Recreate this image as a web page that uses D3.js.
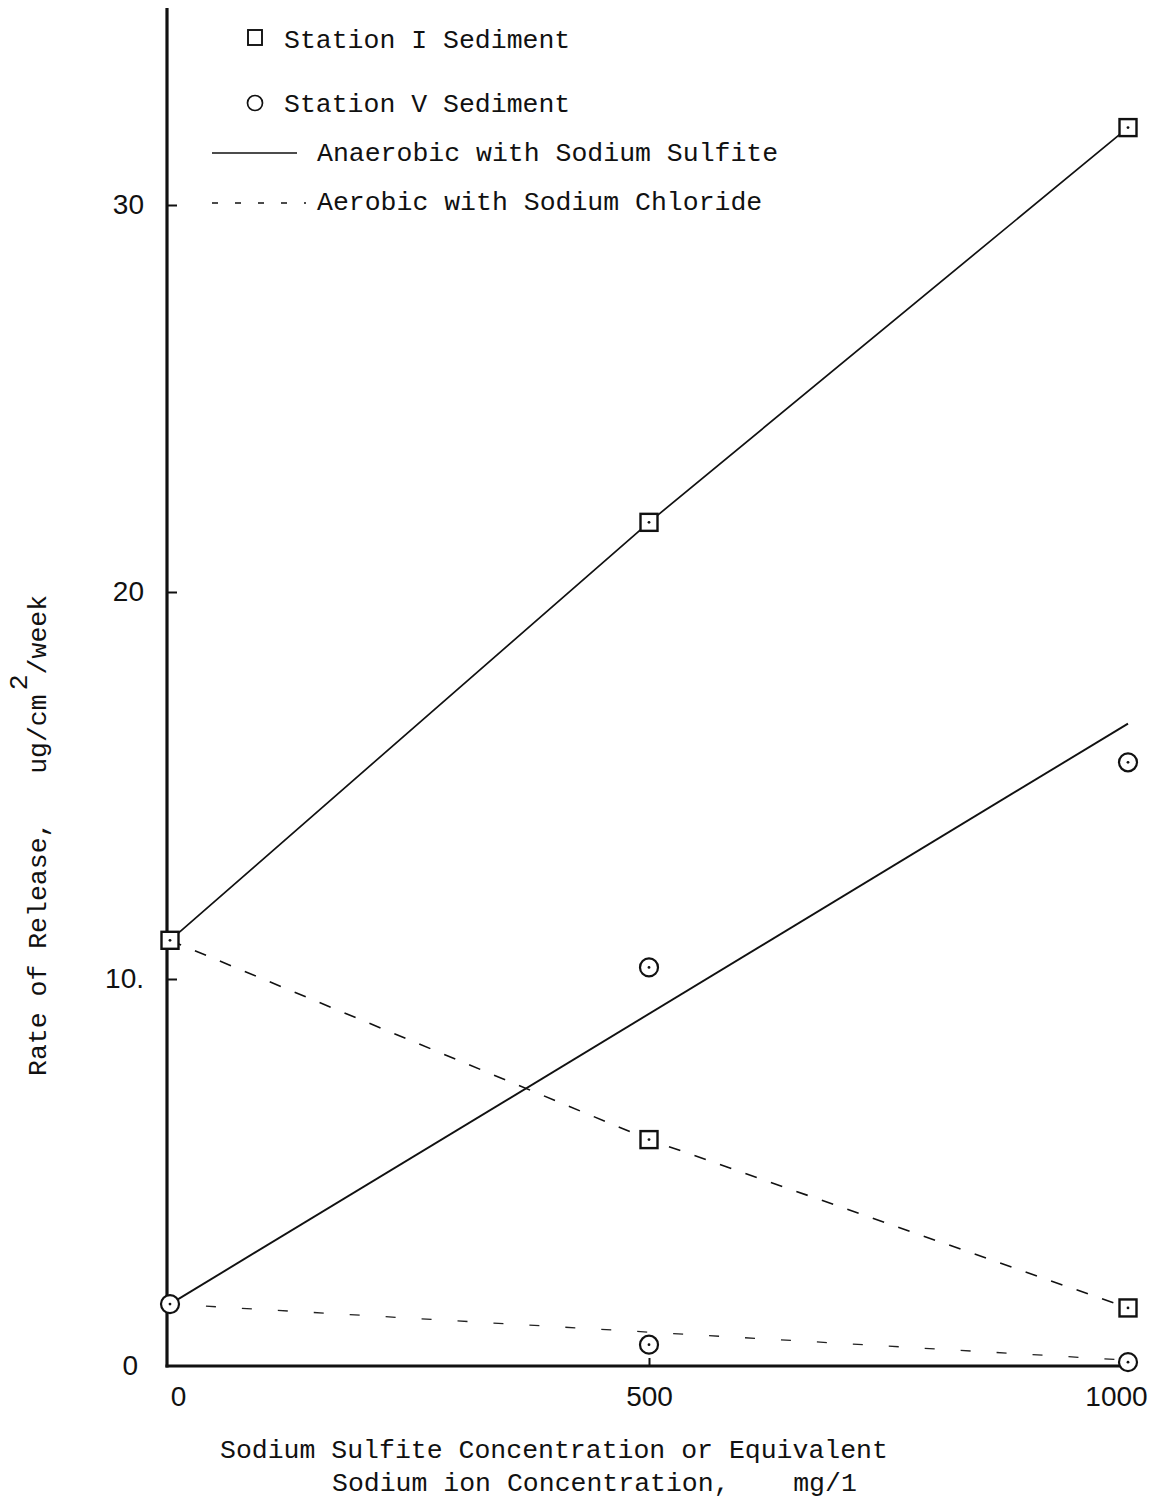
<!DOCTYPE html>
<html>
<head>
<meta charset="utf-8">
<script src="https://cdn.jsdelivr.net/npm/d3@7"></script>
<style>
  body { margin: 0; background: #fff; }
  text { fill: #111; }
  .mono { font-family: "Liberation Mono", "DejaVu Sans Mono", monospace; font-size: 26.5px; white-space: pre; }
  .tick text { font-family: "Liberation Sans", Arial, sans-serif; font-size: 28px; }
</style>
</head>
<body>
<svg width="1156" height="1501"></svg>
<script>
// concentrations (mg/l)
var conc = [0, 500, 1000];

// rate of release, ug/cm2/week
var st1Anaerobic = [11.0, 21.8, 32.0];
var st1Aerobic = [11.0, 5.85, 1.5];
var st5Anaerobic = [1.6, 10.3, 15.6];
var st5Aerobic = [1.6, 0.55, 0.1];

// fitted lines for station V (end points at 0 and 1000)
var fitConc = [0, 1000];
var st5AnaerobicFit = [1.6, 16.6];
var st5AerobicFit = [1.6, 0.15];

var yTicks = [0, 10, 20, 30];
var yTickLabels = ["0", "10.", "20", "30"];
var xTicks = [0, 500, 1000];

var svg = d3.select("svg");

var x = d3.scaleLinear().domain([0, 1000]).range([170, 1128]);
var y = d3.scaleLinear().domain([0, 35]).range([1366, 11.5]);

// axes
var yAxis = d3.axisLeft(y)
    .tickValues(yTicks)
    .tickSize(-10)
    .tickSizeOuter(0)
    .tickPadding(23)
    .tickFormat(function(d, i) { return yTickLabels[i]; });

var gy = svg.append("g")
    .attr("transform", "translate(" + (x(0) - 3) + ",0)")
    .call(yAxis);
gy.select(".domain").remove();
gy.selectAll(".tick line").attr("stroke", "#111").attr("stroke-width", 2)
    .filter(function(d) { return d === 0; }).remove();
gy.selectAll(".tick text").attr("dx", function(d) { return d === 0 ? -6 : 0; });

svg.append("line")
    .attr("x1", x(0) - 3).attr("x2", x(0) - 3)
    .attr("y1", y(0) + 1.5).attr("y2", 8)
    .attr("stroke", "#111").attr("stroke-width", 3.2);

var xAxis = d3.axisBottom(x)
    .tickValues(xTicks)
    .tickSize(-8)
    .tickSizeOuter(0)
    .tickPadding(20)
    .tickFormat(d3.format("d"));

var gx = svg.append("g")
    .attr("transform", "translate(0," + y(0) + ")")
    .call(xAxis);
gx.select(".domain").remove();
gx.selectAll(".tick line").attr("stroke", "#111").attr("stroke-width", 2)
    .filter(function(d) { return d !== 500; }).remove();
gx.selectAll(".tick text").attr("dx", function(d) {
    return d === 0 ? 8 : (d === 1000 ? -12 : 0);
});

svg.append("line")
    .attr("x1", x(0) - 4.5).attr("x2", x(1000) + 8)
    .attr("y1", y(0)).attr("y2", y(0))
    .attr("stroke", "#111").attr("stroke-width", 3.2);

// lines
var line = d3.line()
    .x(function(d) { return x(d[0]); })
    .y(function(d) { return y(d[1]); });

function pairs(xs, ys) {
    return xs.map(function(v, i) { return [v, ys[i]]; });
}

svg.append("path")
    .attr("d", line(pairs(conc, st1Anaerobic)))
    .attr("fill", "none").attr("stroke", "#111").attr("stroke-width", 1.7);

svg.append("path")
    .attr("d", line(pairs(fitConc, st5AnaerobicFit)))
    .attr("fill", "none").attr("stroke", "#111").attr("stroke-width", 1.9);

svg.append("path")
    .attr("d", line(pairs(conc, st1Aerobic)))
    .attr("fill", "none").attr("stroke", "#111").attr("stroke-width", 1.6)
    .attr("stroke-dasharray", "12,15");

svg.append("path")
    .attr("d", line(pairs(fitConc, st5AerobicFit)))
    .attr("fill", "none").attr("stroke", "#222").attr("stroke-width", 1.3)
    .attr("stroke-dasharray", "10,26");

// markers
var squares = pairs(conc, st1Anaerobic).concat(pairs(conc.slice(1), st1Aerobic.slice(1)));
var circles = pairs(conc, st5Anaerobic).concat(pairs(conc.slice(1), st5Aerobic.slice(1)));

svg.selectAll(".sq")
    .data(squares)
    .enter().append("rect")
    .attr("class", "sq")
    .attr("x", function(d) { return x(d[0]) - 8.5; })
    .attr("y", function(d) { return y(d[1]) - 8.5; })
    .attr("width", 17).attr("height", 17)
    .attr("fill", "#fff").attr("stroke", "#111").attr("stroke-width", 2.4);

svg.selectAll(".ci")
    .data(circles)
    .enter().append("circle")
    .attr("class", "ci")
    .attr("cx", function(d) { return x(d[0]); })
    .attr("cy", function(d) { return y(d[1]); })
    .attr("r", 9)
    .attr("fill", "#fff").attr("stroke", "#111").attr("stroke-width", 2.2);

svg.selectAll(".dot")
    .data(squares.concat(circles))
    .enter().append("circle")
    .attr("cx", function(d) { return x(d[0]); })
    .attr("cy", function(d) { return y(d[1]); })
    .attr("r", 1.4).attr("fill", "#111");

// legend
var lg = svg.append("g");
lg.append("rect").attr("x", 248).attr("y", 30).attr("width", 14).attr("height", 15)
    .attr("fill", "none").attr("stroke", "#111").attr("stroke-width", 1.9);
lg.append("text").attr("class", "mono").attr("x", 284).attr("y", 48).text("Station I Sediment");
lg.append("circle").attr("cx", 255).attr("cy", 103).attr("r", 7.5)
    .attr("fill", "none").attr("stroke", "#111").attr("stroke-width", 1.7);
lg.append("text").attr("class", "mono").attr("x", 284).attr("y", 112).text("Station V Sediment");
lg.append("line").attr("x1", 212).attr("x2", 297).attr("y1", 153).attr("y2", 153)
    .attr("stroke", "#111").attr("stroke-width", 1.4);
lg.append("text").attr("class", "mono").attr("x", 317).attr("y", 161).text("Anaerobic with Sodium Sulfite");
lg.append("line").attr("x1", 212).attr("x2", 306).attr("y1", 203).attr("y2", 203)
    .attr("stroke", "#111").attr("stroke-width", 1.4).attr("stroke-dasharray", "6,17");
lg.append("text").attr("class", "mono").attr("x", 317).attr("y", 210).text("Aerobic with Sodium Chloride");

// axis titles
svg.append("text").attr("class", "mono").attr("x", 220).attr("y", 1458)
    .text("Sodium Sulfite Concentration or Equivalent");
svg.append("text").attr("class", "mono").attr("x", 332).attr("y", 1491)
    .text("Sodium ion Concentration,    mg/1");

var yt = svg.append("text").attr("class", "mono")
    .attr("transform", "translate(46,1076) rotate(-90)");
yt.append("tspan").text("Rate of Release,   ug/cm");
yt.append("tspan").attr("dy", -19).attr("dx", 4).text("2");
yt.append("tspan").attr("dy", 19).text("/week");
</script>
</body>
</html>
